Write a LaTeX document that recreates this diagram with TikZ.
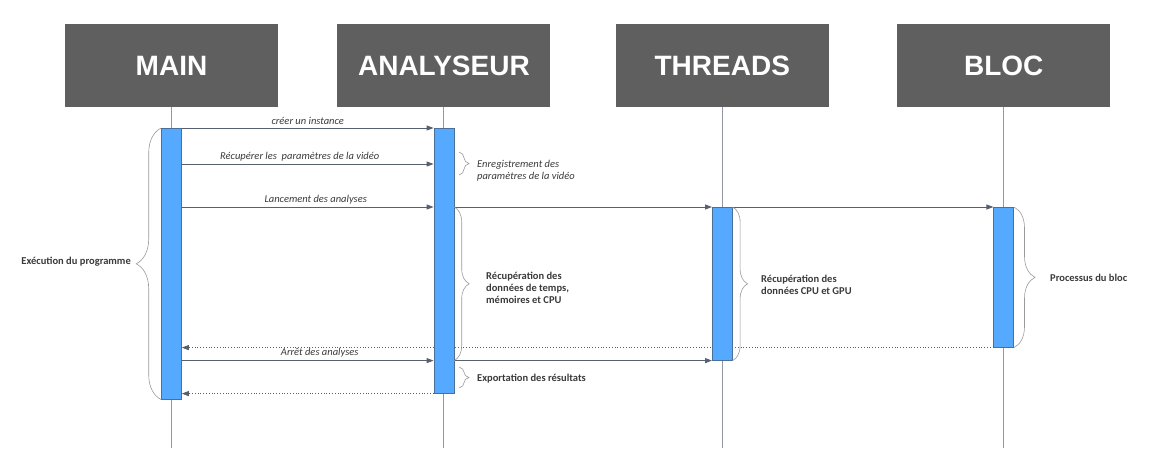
\documentclass[tikz,border=0pt]{standalone}
\usepackage{fontspec}
\setmainfont{Carlito}
\newfontfamily\headfont{Liberation Sans}
\usetikzlibrary{arrows.meta,positioning,decorations.pathreplacing,backgrounds}
\definecolor{headgray}{HTML}{5F5F5F}
\definecolor{barblue}{HTML}{55AAFF}
\definecolor{barline}{HTML}{4A6F99}
\definecolor{lifegray}{HTML}{8E98A6}
\definecolor{msgslate}{HTML}{56606E}
\definecolor{bracegray}{HTML}{9A9A9A}
\definecolor{txtgray}{HTML}{3A3A3A}

\begin{document}
\begin{tikzpicture}[x=1pt,y=-1pt,
      header/.style={
         rectangle,
         fill=headgray,
         inner sep=0pt,
         minimum width=213pt,
         minimum height=83pt,
         text=white,
         font=\headfont\bfseries\fontsize{28}{28}\selectfont},
      actbar/.style={rectangle, draw=barline, fill=barblue, line width=0.6pt,
         inner sep=0pt, minimum width=20pt, anchor=north},
      lifeline/.style={draw=lifegray, line width=1pt},
      msg/.style={-{Triangle[length=7pt,width=5pt]}, draw=msgslate, line width=0.9pt},
      reply/.style={-{Triangle[length=7pt,width=5pt]}, draw=msgslate, dotted, line width=0.8pt},
      msgtxt/.style={above, inner sep=2.5pt, text=txtgray, font=\itshape\fontsize{10.5}{10.5}\selectfont},
      note/.style={inner sep=0pt, align=left, text=txtgray, font=\bfseries\fontsize{10.5}{12}\selectfont},
      curly/.style={draw=bracegray, line width=0.6pt, decorate, decoration={brace, amplitude=#1}},
      node distance=59pt
      ]
      \useasboundingbox (0,0) rectangle (1173,459);

      % headers
      \node[header] (main) at (171.5,65.5) {MAIN};
      \node[header,right=59pt of main] (ana) {ANALYSEUR};
      \node[header,right=65pt of ana] (thr) {THREADS};
      \node[header,right=68pt of thr] (bloc) {BLOC};

      % activation bars
      \node[actbar,minimum height=271pt] (mainbar) at (main.south |- 0,128) {};
      \node[actbar,minimum height=265pt] (anabar) at (ana.south |- 0,128) {};
      \node[actbar,minimum height=153pt] (thrbar) at (thr.south |- 0,207) {};
      \node[actbar,minimum height=140pt] (blocbar) at (bloc.south |- 0,207) {};

      \begin{scope}[on background layer]
      \foreach \h in {main,ana,thr,bloc}
         \draw[lifeline] (\h.south) -- ++(0,341);
      % returns
      \draw[reply] (blocbar.south west) -- (mainbar.east |- blocbar.south);
      \draw[reply] (anabar.south west) -- (mainbar.east |- anabar.south);
      \end{scope}

      % calls
      \draw[msg] (mainbar.north east) -- node[msgtxt] {créer un instance} (anabar.north west);
      \draw[msg] (mainbar.east |- 0,164) -- node[msgtxt,xshift=-8pt] {Récupérer les \ paramètres de la vidéo} (anabar.west |- 0,164);
      \draw[msg] (mainbar.east |- thrbar.north) -- node[msgtxt,xshift=8pt] {Lancement des analyses} (anabar.west |- thrbar.north);
      \draw[msg] (anabar.east |- thrbar.north) -- (thrbar.north west);
      \draw[msg] (thrbar.north east) -- (blocbar.north west);
      \draw[msg] (mainbar.east |- thrbar.south) -- node[msgtxt,xshift=12pt] {Arrêt des analyses} (anabar.west |- thrbar.south);
      \draw[msg] (anabar.east |- thrbar.south) -- (thrbar.south west);

      % braces
      \draw[curly=25pt] (mainbar.south west) -- (mainbar.north west);
      \draw[curly=15pt] (anabar.east |- thrbar.north) -- (anabar.east |- thrbar.south);
      \draw[curly=10pt] (459,152) -- (459,175);
      \draw[curly=10pt] (459,367) -- (459,388);
      \draw[curly=15pt] (thrbar.north east) -- (thrbar.south east);
      \draw[curly=21pt] (blocbar.north east) -- (blocbar.south east);

      % notes
      \node[note,anchor=east] (exec) at (131,262) {Exécution du programme};
      \node[note,anchor=west,font=\itshape\fontsize{10.5}{12}\selectfont] (enreg) at (477,171) {Enregistrement des\\paramètres de la vidéo};
      \node[note,anchor=west] (recana) at (486,288) {Récupération des\\données de temps,\\mémoires et CPU};
      \node[note,anchor=west] (export) at (477,379) {Exportation des résultats};
      \node[note,anchor=west] (recthr) at (761,284.5) {Récupération des\\données CPU et GPU};
      \node[note,anchor=west] (proc) at (1050,278) {Processus du bloc};
\end{tikzpicture}
\end{document}
